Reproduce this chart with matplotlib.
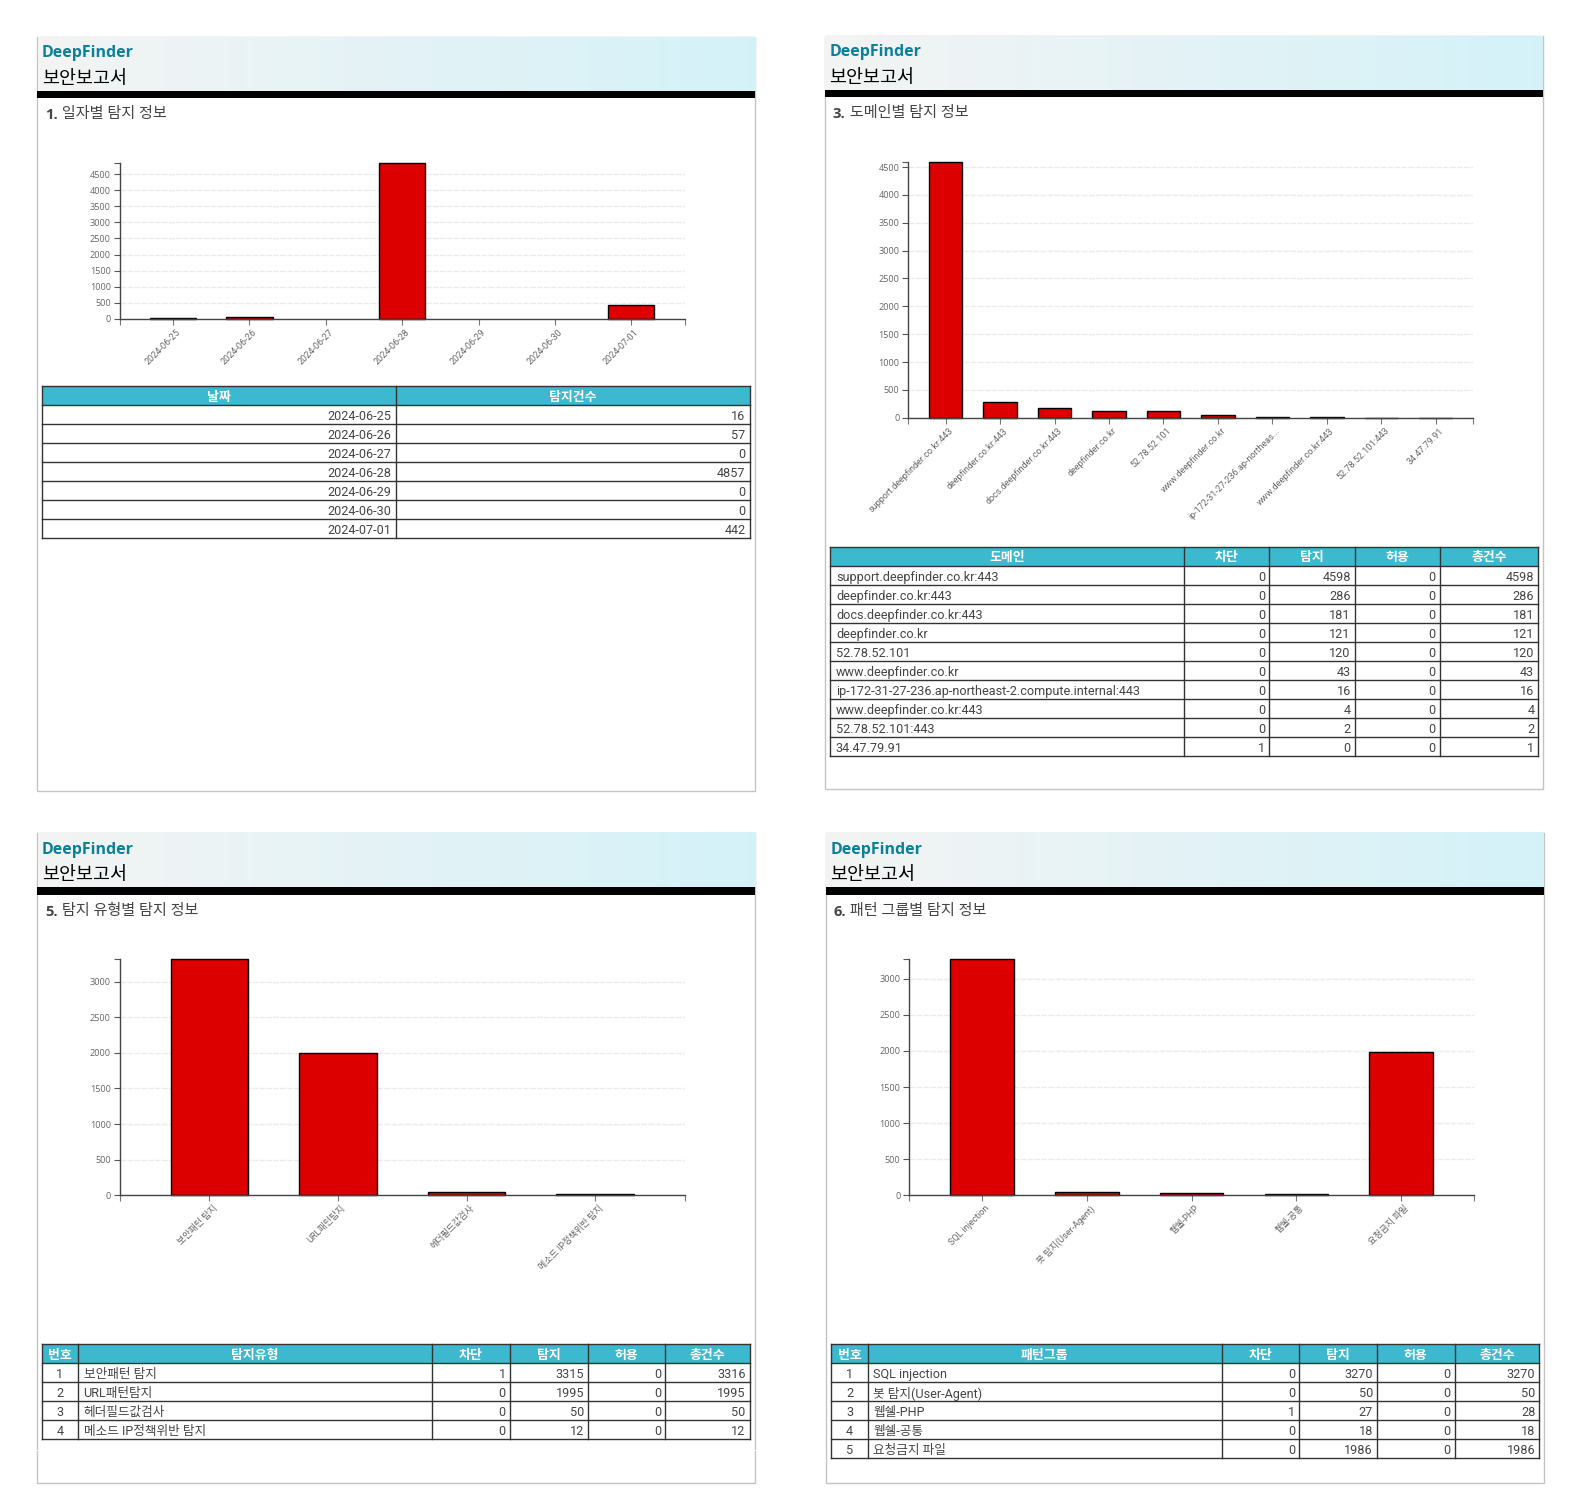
import numpy as np
import matplotlib
matplotlib.use('Agg')
import matplotlib.pyplot as plt
from matplotlib.patches import Rectangle
from matplotlib.transforms import ScaledTranslation

plt.rcParams['font.family'] = ['Open Sans', 'Noto Sans CJK KR', 'DejaVu Sans']
TABLE_FONT = ['Roboto', 'Noto Sans CJK KR', 'DejaVu Sans']

# 1. 일자별 탐지 정보
date_labels = ['2024-06-25', '2024-06-26', '2024-06-27', '2024-06-28', '2024-06-29', '2024-06-30', '2024-07-01']
date_counts = [16, 57, 0, 4857, 0, 0, 442]
date_ticks = [0, 500, 1000, 1500, 2000, 2500, 3000, 3500, 4000, 4500]

# 3. 도메인별 탐지 정보
domain_names = ['support.deepfinder.co.kr:443', 'deepfinder.co.kr:443', 'docs.deepfinder.co.kr:443',
                'deepfinder.co.kr', '52.78.52.101', 'www.deepfinder.co.kr',
                'ip-172-31-27-236.ap-northeast-2.compute.internal:443', 'www.deepfinder.co.kr:443',
                '52.78.52.101:443', '34.47.79.91']
domain_labels = domain_names[:6] + ['ip-172-31-27-236.ap-northeas...'] + domain_names[7:]
domain_block = [0, 0, 0, 0, 0, 0, 0, 0, 0, 1]
domain_detect = [4598, 286, 181, 121, 120, 43, 16, 4, 2, 0]
domain_allow = [0, 0, 0, 0, 0, 0, 0, 0, 0, 0]
domain_total = [4598, 286, 181, 121, 120, 43, 16, 4, 2, 1]
domain_ticks = [0, 500, 1000, 1500, 2000, 2500, 3000, 3500, 4000, 4500]

# 5. 탐지 유형별 탐지 정보
type_names = ['보안패턴 탐지', 'URL패턴탐지', '헤더필드값검사', '메소드 IP정책위반 탐지']
type_block = [1, 0, 0, 0]
type_detect = [3315, 1995, 50, 12]
type_allow = [0, 0, 0, 0]
type_total = [3316, 1995, 50, 12]
type_ticks = [0, 500, 1000, 1500, 2000, 2500, 3000]

# 6. 패턴 그룹별 탐지 정보
group_names = ['SQL injection', '봇 탐지(User-Agent)', '웹쉘-PHP', '웹쉘-공통', '요청금지 파일']
group_block = [0, 0, 1, 0, 0]
group_detect = [3270, 50, 27, 18, 1986]
group_allow = [0, 0, 0, 0, 0]
group_total = [3270, 50, 28, 18, 1986]
group_ticks = [0, 500, 1000, 1500, 2000, 2500, 3000]

# 화면 좌표 (참고 이미지 기준)
W = 1567.7
H = 1497.3
fig = plt.figure(figsize=(15.81, 15.10), dpi=100)
page = fig.add_axes([0, 0, 1, 1])
page.set_xlim(0, W)
page.set_ylim(H, 0)
page.axis('off')

TEAL = '#3cb8cf'
LINE = '#333333'
TEXT = '#444444'


def draw_panel(x0, y0, x1, y1, bar_y, title):
    page.add_patch(Rectangle((x0, y0), x1 - x0, y1 - y0, fc='white', ec='#c4c4c4', lw=1))
    grad = np.linspace(0, 1, 512)[None, :, None]
    left = np.array([0.955, 0.955, 0.955])
    right = np.array([0.83, 0.95, 0.975])
    page.imshow(left + grad * (right - left), extent=(x0 + 0.5, x1 - 0.5, bar_y, y0 + 0.5), aspect='auto', zorder=1)
    page.set_xlim(0, W)
    page.set_ylim(H, 0)
    page.add_patch(Rectangle((x0, bar_y), x1 - x0, 7, fc='black', ec='none', zorder=2))
    page.text(x0 + 4.4, bar_y - 37, 'DeepFinder', fontsize=11.5, fontweight='bold', color='#0b8199', va='center', zorder=3)
    page.text(x0 + 4.6, bar_y - 12, '보안보고서', fontsize=13.3, color='black', va='center', zorder=3)
    num, rest = title.split(' ', 1)
    t = page.text(x0 + 8, bar_y + 24, num, fontsize=10.6, fontweight='bold', color=TEXT, va='center')
    page.annotate(' ' + rest, xy=(1, 0), xycoords=t, xytext=(0, 0), textcoords='offset points',
                  fontsize=10.9, color=TEXT, va='bottom')


def draw_chart(box, centers, width, values, labels, ticks, top):
    x0, y0, x1, y1 = box[0] - 0.3, box[1] - 0.8, box[2] - 0.3, box[3] - 0.8
    ax = fig.add_axes([x0 / W, 1 - y1 / H, (x1 - x0) / W, (y1 - y0) / H], facecolor='none')
    step = centers[1] - centers[0]
    ax.set_xlim((x0 - centers[0] + 0.3) / step, (x1 - centers[0] + 0.3) / step)
    ax.set_ylim(0, top)
    pos = np.arange(len(values))
    ax.yaxis.grid(True, color='#ebebeb', lw=1, ls=(0, (4, 1)))
    ax.set_axisbelow(True)
    # 값이 0인 막대는 테두리도 그리지 않음
    widths = [1 if v > 0 else 0 for v in values]
    ax.bar(pos, values, width=width / step, color='#dc0000', edgecolor='black', linewidth=widths, clip_on=False)
    for s in ['top', 'right']:
        ax.spines[s].set_visible(False)
    for s in ['left', 'bottom']:
        ax.spines[s].set_color('#444444')
        ax.spines[s].set_linewidth(1)
    ax.set_yticks(list(ticks) + [top], [str(v) for v in ticks] + [''])
    ax.get_ygridlines()[-1].set_visible(False)
    ax.set_xticks(list(pos) + list(ax.get_xlim()), list(labels) + ['', ''])
    ax.tick_params(axis='y', length=4.3, width=0.8, color='#555555', labelcolor='#666666', labelsize=6.6, pad=2.2)
    ax.tick_params(axis='x', length=4.3, width=0.8, color='#777777', labelcolor='#666666', labelsize=6.5, pad=1.8)
    shift = ScaledTranslation(3 / 100, 0, fig.dpi_scale_trans)
    for lab in ax.get_xticklabels():
        lab.set_family(TABLE_FONT)
        lab.set_rotation(45)
        lab.set_ha('right')
        lab.set_va('top')
        lab.set_rotation_mode('anchor')
        lab.set_transform(lab.get_transform() + shift)
    return ax


def draw_table(x_edges, y0, headers, columns, aligns):
    row_h = 18.85
    y0 = y0 - 1
    x_edges = [x - 0.6 for x in x_edges]
    n = len(columns[0])
    y1 = y0 + row_h * (n + 1)
    page.add_patch(Rectangle((x_edges[0], y0), x_edges[-1] - x_edges[0], row_h, fc=TEAL, ec='none', zorder=2))
    for r in range(n + 2):
        page.plot([x_edges[0], x_edges[-1]], [y0 + r * row_h] * 2, color=LINE, lw=1, zorder=3)
    for x in x_edges:
        page.plot([x, x], [y0, y1], color=LINE, lw=1, zorder=3)
    for c, head in enumerate(headers):
        left, right = x_edges[c], x_edges[c + 1]
        page.text((left + right) / 2, y0 + row_h / 2 + 1.5, head, color='white', fontsize=9.3, fontweight='bold',
                  ha='center', va='center', zorder=4, family=TABLE_FONT)
        for r, val in enumerate(columns[c]):
            y = y0 + (r + 1.5) * row_h + 2
            if aligns[c] == 'l':
                x, ha = left + 5.5, 'left'
            elif aligns[c] == 'c':
                x, ha = (left + right) / 2, 'center'
            else:
                x, ha = right - 4, 'right'
            page.text(x, y, str(val), color=TEXT, fontsize=9.1, ha=ha, va='center', zorder=4, family=TABLE_FONT)


# 패널 1
draw_panel(36.8, 36.8, 748.8, 784.3, 90, '1. 일자별 탐지 정보')
draw_chart((119, 162, 680, 317), [172 + 75.7 * i for i in range(7)], 46, date_counts, date_labels, date_ticks, 4857)
draw_table([42, 393, 744], 384, ['날짜', '탐지건수'], [date_labels, date_counts], ['r', 'r'])

# 패널 3
draw_panel(817.8, 35.8, 1530.3, 782.3, 89, '3. 도메인별 탐지 정보')
draw_chart((901, 161, 1461, 415), [938 + 54 * i for i in range(10)], 33, domain_total, domain_labels, domain_ticks, 4598)
draw_table([824, 1175, 1259, 1344, 1428, 1526], 543, ['도메인', '차단', '탐지', '허용', '총건수'],
           [domain_names, domain_block, domain_detect, domain_allow, domain_total], ['l', 'r', 'r', 'r', 'r'])

# 패널 5
draw_panel(36.8, 825.8, 748.8, 1470.3, 880, '5. 탐지 유형별 탐지 정보')
draw_chart((119, 952, 680, 1186), [208 + 127.5 * i for i in range(4)], 77, type_detect, type_names, type_ticks, 3315)
draw_table([42, 78, 429, 506, 584, 660, 744], 1334, ['번호', '탐지유형', '차단', '탐지', '허용', '총건수'],
           [[1, 2, 3, 4], type_names, type_block, type_detect, type_allow, type_total], ['c', 'l', 'r', 'r', 'r', 'r'])
# 패널 5 테두리의 끊긴 부분
page.add_patch(Rectangle((35.8, 1437.5), 2, 1.5, fc='white', ec='none', zorder=2))
page.add_patch(Rectangle((747.8, 1437.5), 2, 1.5, fc='white', ec='none', zorder=2))

# 패널 6
draw_panel(818.8, 825.8, 1530.8, 1470.3, 880, '6. 패턴 그룹별 탐지 정보')
draw_chart((902, 952, 1462, 1186), [974 + 103.9 * i for i in range(5)], 63, group_detect, group_names, group_ticks, 3270)
draw_table([825, 861, 1212, 1289, 1366, 1443, 1527], 1334, ['번호', '패턴그룹', '차단', '탐지', '허용', '총건수'],
           [[1, 2, 3, 4, 5], group_names, group_block, group_detect, group_allow, group_total], ['c', 'l', 'r', 'r', 'r', 'r'])

fig.savefig('out.png', dpi=100)
